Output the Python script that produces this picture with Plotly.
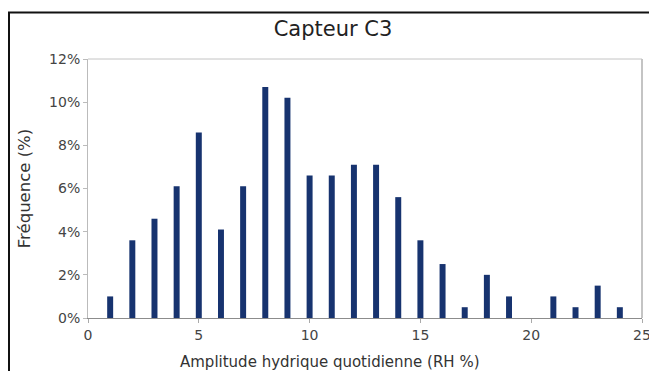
import plotly.graph_objects as go

amplitude = list(range(1, 25))
frequence = [1.0, 3.6, 4.6, 6.1, 8.6, 4.1, 6.1, 10.7, 10.2, 6.6, 6.6, 7.1,
             7.1, 5.6, 3.6, 2.5, 0.5, 2.0, 1.0, 0.0, 1.0, 0.5, 1.5, 0.5]
y_ticks = [0, 2, 4, 6, 8, 10, 12]
y_tick_labels = [f"{v}%" for v in y_ticks]
x_ticks = [0, 5, 10, 15, 20, 25]

W, H = 649, 371
L, R, T, B = 88, 7, 59, 53
pw, ph = W - L - R, H - T - B

fig = go.Figure(go.Bar(x=amplitude, y=frequence, width=0.27,
                       marker=dict(color="#17336f", line=dict(width=0))))

fig.update_layout(
    width=W, height=H,
    margin=dict(l=L, r=R, t=T, b=B, autoexpand=False),
    paper_bgcolor="white", plot_bgcolor="white",
    font=dict(family="DejaVu Sans", color="#333333"),
    title=dict(text="Capteur C3", x=333 / W, xanchor="center", xref="container",
               y=1 - 29 / H, yanchor="middle",
               font=dict(size=21, color="#222222")),
    showlegend=False,
    xaxis=dict(range=[0, 25], tickvals=x_ticks, showgrid=False, zeroline=False,
               showline=True, linecolor="#8c8c8c", linewidth=1, mirror=False,
               ticks="outside", ticklen=4, tickcolor="#aaaaaa",
               ticklabeloverflow="allow", automargin=False,
               tickfont=dict(size=14, color="#444444")),
    yaxis=dict(range=[0, 12], tickvals=y_ticks, ticktext=y_tick_labels, showgrid=False,
               zeroline=False, showline=True, linecolor="#bbbbbb", linewidth=1, mirror=False,
               ticks="outside", ticklen=4, tickcolor="#bbbbbb", automargin=False,
               tickfont=dict(size=14, color="#444444"),
               title=dict(text="Fréquence (%)", standoff=14,
                          font=dict(size=16.5, color="#333333"))),
)

# x-axis title, centred on the chart (not the plot area) as in the original
fig.add_annotation(text="Amplitude hydrique quotidienne (RH %)", showarrow=False,
                   xref="paper", yref="paper",
                   x=(330 - L) / pw, y=-(362 - (H - B)) / ph,
                   xanchor="center", yanchor="middle",
                   font=dict(size=15, color="#333333"))

# light grey frame on top and right of the plot area
fig.add_shape(type="line", xref="paper", yref="paper", x0=0, x1=1, y0=1, y1=1,
              line=dict(color="#c4c4c4", width=1))
fig.add_shape(type="line", xref="paper", yref="paper", x0=1, x1=1, y0=0, y1=1,
              line=dict(color="#c4c4c4", width=2))

# outer chart frame (top and left edges visible, the rest runs off the picture)
fig.add_shape(type="rect", xref="paper", yref="paper",
              x0=(9 - L) / pw, x1=(700 - L) / pw,
              y0=((H - B) - 420) / ph, y1=((H - B) - 12.5) / ph,
              line=dict(color="#111111", width=2), fillcolor="rgba(0,0,0,0)", layer="below")

fig.write_html(
    "out.html",
    config={"displayModeBar": False},
    post_script="document.body.style.margin='0';document.body.style.overflow='hidden';"
                "document.documentElement.style.overflow='hidden';",
)
